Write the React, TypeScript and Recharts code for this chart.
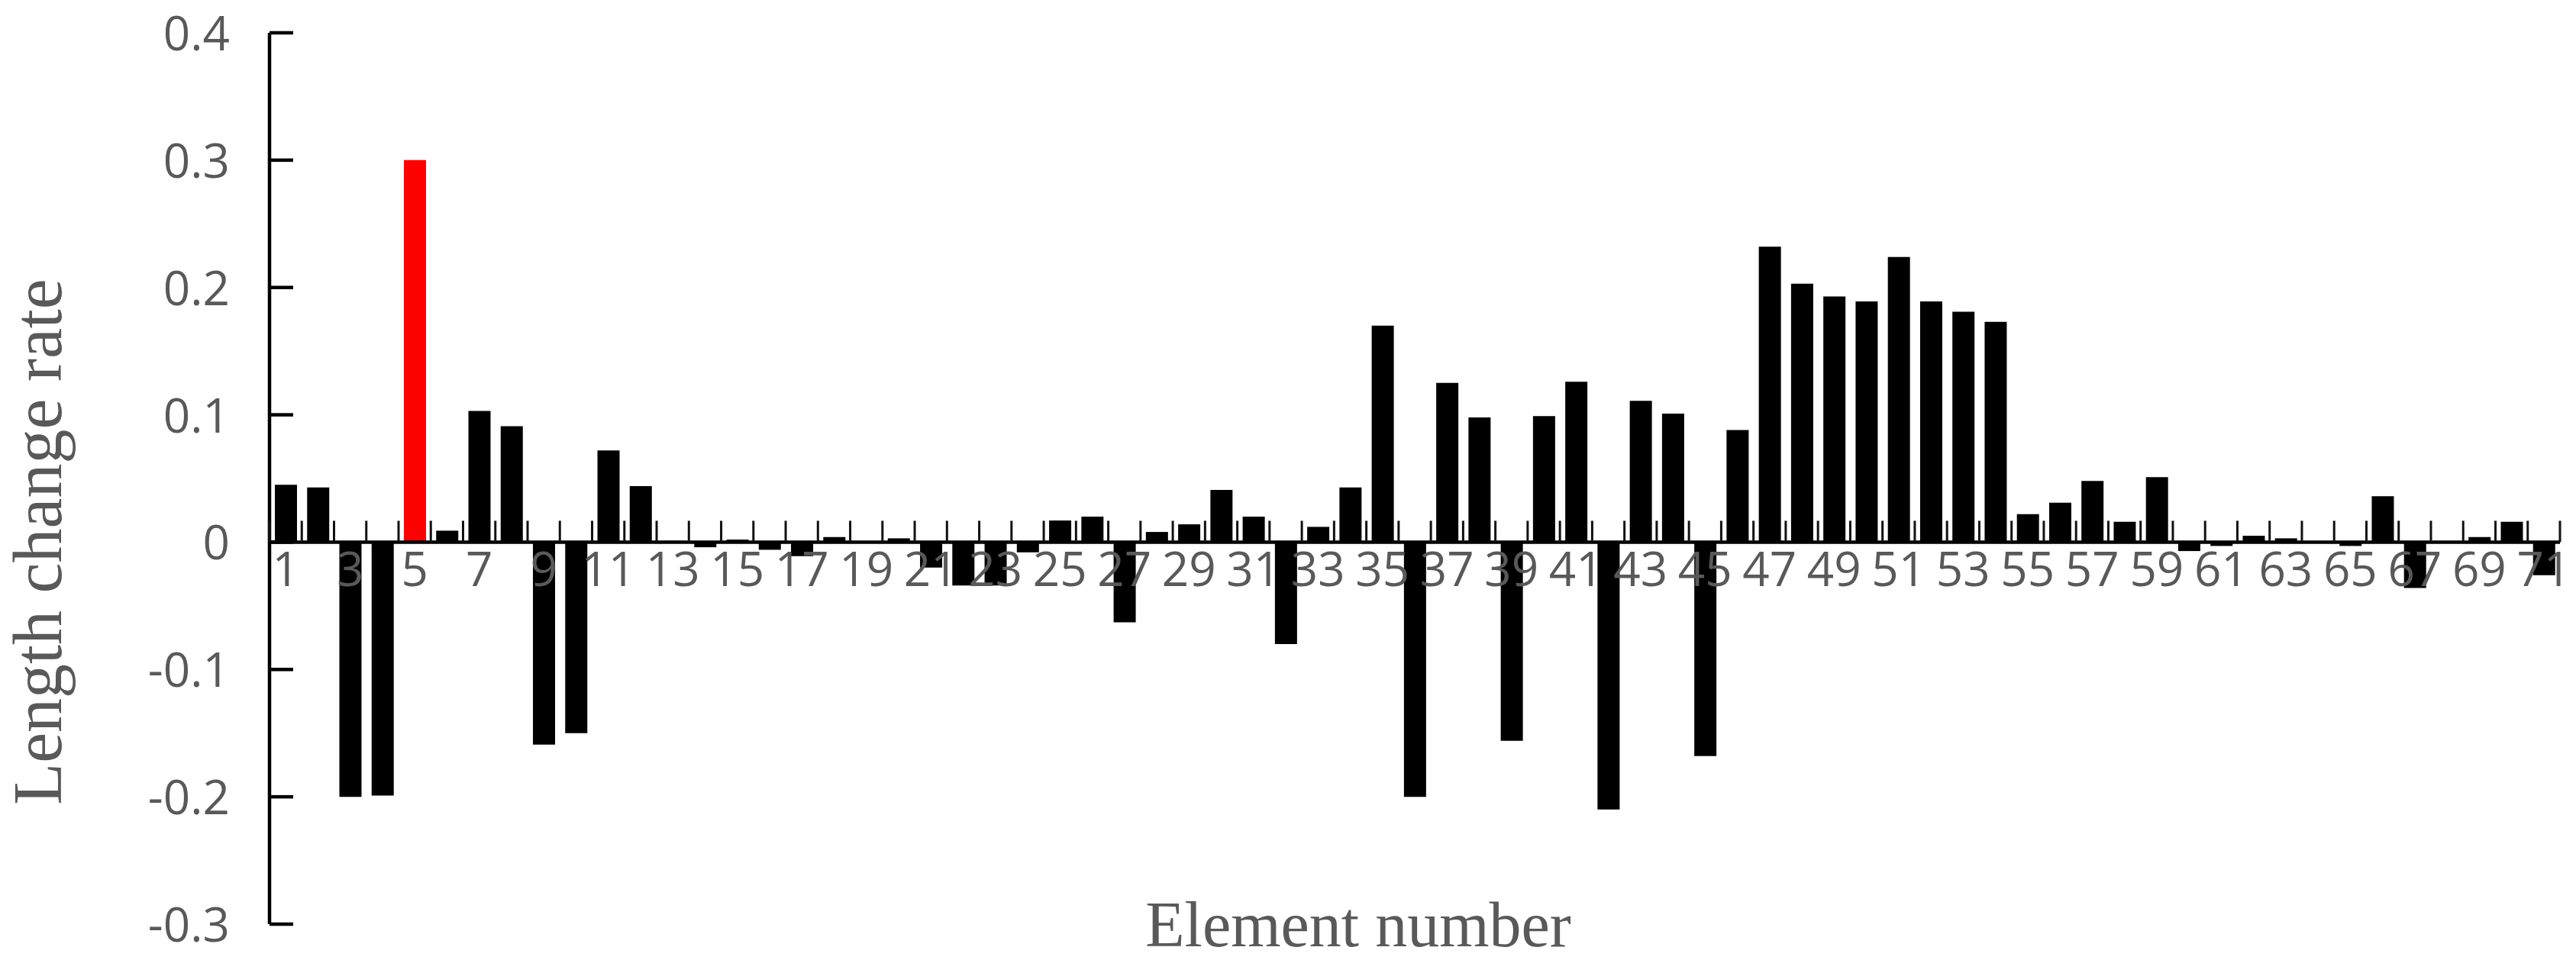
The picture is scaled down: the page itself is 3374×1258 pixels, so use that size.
import { BarChart, Bar, XAxis, YAxis, Cell, ReferenceLine } from 'recharts'

// element numbers along the x axis
const elements = [
  1, 2, 3, 4, 5, 6, 7, 8, 9, 10, 11, 12, 13, 14, 15, 16, 17, 18, 19, 20,
  21, 22, 23, 24, 25, 26, 27, 28, 29, 30, 31, 32, 33, 34, 35, 36, 37, 38, 39, 40,
  41, 42, 43, 44, 45, 46, 47, 48, 49, 50, 51, 52, 53, 54, 55, 56, 57, 58, 59, 60,
  61, 62, 63, 64, 65, 66, 67, 68, 69, 70, 71,
]

// length change rate per element
const lengthChangeRate = [
  0.045, 0.043, -0.2, -0.199, 0.3, 0.009, 0.103, 0.091, -0.159, -0.15,
  0.072, 0.044, 0.001, -0.004, 0.002, -0.006, -0.011, 0.004, 0.0, 0.003,
  -0.02, -0.034, -0.034, -0.008, 0.017, 0.02, -0.063, 0.008, 0.014, 0.041,
  0.02, -0.08, 0.012, 0.043, 0.17, -0.2, 0.125, 0.098, -0.156, 0.099,
  0.126, -0.21, 0.111, 0.101, -0.168, 0.088, 0.232, 0.203, 0.193, 0.189,
  0.224, 0.189, 0.181, 0.173, 0.022, 0.031, 0.048, 0.016, 0.051, -0.007,
  -0.003, 0.005, 0.003, 0.0, -0.003, 0.036, -0.036, 0.0, 0.004, 0.016,
  -0.026,
]

const highlighted = [5]
const yTicks = [-0.3, -0.2, -0.1, 0, 0.1, 0.2, 0.3, 0.4]

const W = 3374
const H = 1258
const PLOT_LEFT = 353
const PLOT_TOP = 43
const PLOT_BOTTOM = 1211
const Y_MIN = -0.3
const Y_MAX = 0.4
const ZERO_Y = PLOT_TOP + ((PLOT_BOTTOM - PLOT_TOP) * Y_MAX) / (Y_MAX - Y_MIN)

const tickFont = { fontFamily: '"Open Sans", sans-serif', fontSize: 62, fill: '#595959' }
const titleFont = { fontFamily: '"Liberation Serif", "Times New Roman", serif', fill: '#595959' }

const data = elements.map((el, i) => ({ el, value: lengthChangeRate[i] }))

// category boundary marks + odd labels just under the zero line (bars are painted over them)
function ElementTick(props: any) {
  const { x, payload, index } = props
  const half = payload?.offset ?? 21
  const left = x - half
  const last = index === elements.length - 1
  return (
    <g>
      <line x1={left} x2={left} y1={ZERO_Y} y2={ZERO_Y - 28} stroke="#111" strokeWidth={3} />
      {last && <line x1={x + half} x2={x + half} y1={ZERO_Y} y2={ZERO_Y - 28} stroke="#111" strokeWidth={3} />}
      {Number(payload.value) % 2 === 1 && (
        <text x={x} y={ZERO_Y + 58} textAnchor="middle" {...tickFont}>{payload.value}</text>
      )}
    </g>
  )
}

function RateTick(props: any) {
  const { y, payload } = props
  return (
    <g>
      <line x1={PLOT_LEFT} x2={PLOT_LEFT + 31} y1={y} y2={y} stroke="#000" strokeWidth={4.5} />
      <text x={PLOT_LEFT - 52} y={y} dy={23} textAnchor="end" {...tickFont}>{String(payload.value)}</text>
    </g>
  )
}

export default function App() {
  return (
    <div style={{ position: 'absolute', left: 0, top: 0, width: W, height: H, background: '#fff' }}>
      <BarChart
        width={W} height={H} data={data}
        margin={{ top: PLOT_TOP, right: 21, bottom: 0, left: 0 }}
      >
        <YAxis
          type="number" domain={[Y_MIN, Y_MAX]} ticks={yTicks} width={PLOT_LEFT}
          axisLine={{ stroke: '#000', strokeWidth: 4.5 }} tickLine={false} tickSize={0}
          tick={<RateTick />} interval={0} allowDataOverflow
        />
        <XAxis
          dataKey="el" height={H - PLOT_BOTTOM} axisLine={false} tickLine={false}
          interval={0} tick={<ElementTick />}
        />
        <ReferenceLine y={0} stroke="#000" strokeWidth={4.5} />
        <Bar dataKey="value" barSize={29} isAnimationActive={false}>
          {data.map((d) => (
            <Cell key={d.el} fill={highlighted.includes(d.el) ? '#FF0000' : '#000000'} />
          ))}
        </Bar>
      </BarChart>
      <svg width={W} height={H} style={{ position: 'absolute', left: 0, top: 0, pointerEvents: 'none' }}>
        <text
          x={80} y={710} textAnchor="middle" fontSize={90} transform="rotate(-90 80 710)" {...titleFont}
        >
          Length change rate
        </text>
        <text x={1779} y={1240} textAnchor="middle" fontSize={84} {...titleFont}>
          Element number
        </text>
      </svg>
    </div>
  )
}
